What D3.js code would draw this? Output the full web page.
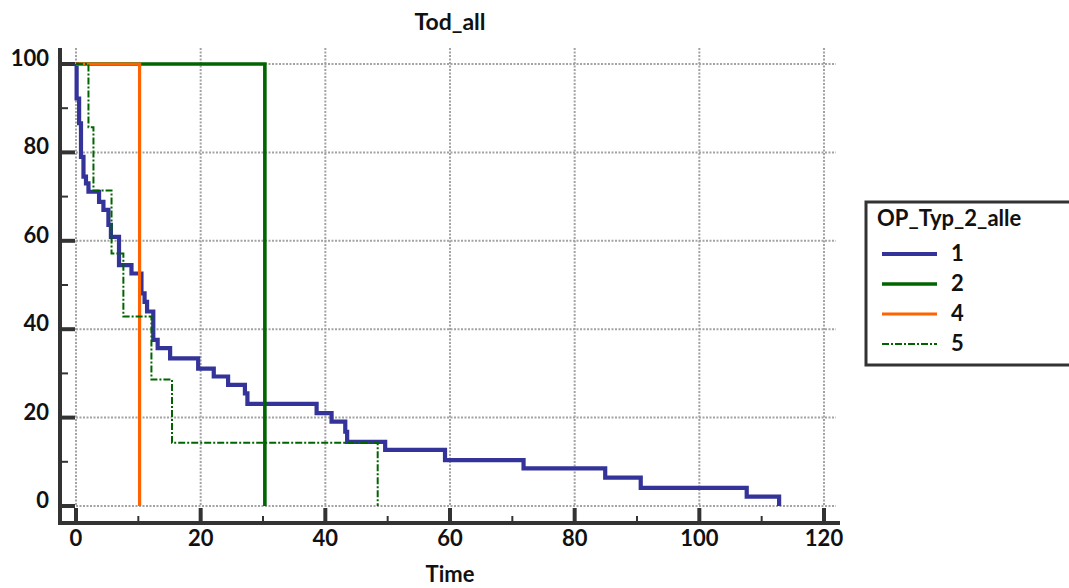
<!DOCTYPE html>
<html>
<head>
<meta charset="utf-8">
<script src="https://cdn.jsdelivr.net/npm/d3@7"></script>
<style>
  html, body { margin: 0; padding: 0; background: #fff; }
  svg { display: block; font-family: Lato, "Open Sans", sans-serif; }
</style>
</head>
<body>
<svg id="chart" width="1069" height="588"></svg>
<script>
// Kaplan-Meier survival estimates (%) by OP_Typ_2_alle group
const time1 = [0, 0.1, 0.5, 0.8, 1.2, 1.6, 2.0, 3.7, 4.4, 5.2, 5.6, 6.9, 8.9, 10.5, 11.0, 11.4, 12.4, 13.1, 15.1, 19.6, 22.1, 24.4, 27.1, 27.5, 38.6, 41.0, 43.2, 43.5, 49.6, 59.2, 71.8, 84.9, 90.6, 107.6, 112.8];
const surv1 = [100, 92.2, 86.6, 79.0, 74.5, 73.0, 71.1, 68.8, 67.0, 63.6, 60.9, 54.5, 52.6, 48.1, 46.2, 44.0, 37.6, 35.7, 33.4, 31.1, 29.3, 27.4, 25.5, 23.1, 21.0, 19.1, 16.8, 14.5, 12.7, 10.4, 8.5, 6.4, 4.1, 2.1, 0];
const time2 = [0, 30.3];
const surv2 = [100, 0];
const time4 = [0, 10.2];
const surv4 = [100, 0];
const time5 = [0, 2.0, 2.8, 5.7, 7.6, 12.1, 15.4, 48.4];
const surv5 = [100, 85.7, 71.4, 57.1, 42.9, 28.6, 14.3, 0];

const groupNames = ["1", "2", "4", "5"];
const xTicks = [0, 20, 40, 60, 80, 100, 120];
const yTicks = [0, 20, 40, 60, 80, 100];
const xMinorTicks = [10, 30, 50, 70, 90, 110];
const yMinorTicks = [10, 30, 50, 70, 90];

const groups = [
  { name: groupNames[0], t: time1, s: surv1, color: "#333399", width: 4.2, dash: null },
  { name: groupNames[1], t: time2, s: surv2, color: "#006400", width: 3.6, dash: null },
  { name: groupNames[2], t: time4, s: surv4, color: "#ff6200", width: 3.2, dash: null },
  { name: groupNames[3], t: time5, s: surv5, color: "#006400", width: 2, dash: "7,2,2,2" }
];

const svg = d3.select("#chart");
const x = d3.scaleLinear().domain([0, 120]).range([76, 824]);
const y = d3.scaleLinear().domain([0, 100]).range([506, 64]);

const axisColor = "#333333";
const gridColor = "#a3a3a3";

// grid
const grid = svg.append("g");
grid.selectAll("line.gx").data(xTicks).join("line")
  .attr("x1", d => x(d)).attr("x2", d => x(d))
  .attr("y1", 48).attr("y2", y(0))
  .attr("stroke", gridColor).attr("stroke-width", 2).attr("stroke-dasharray", "2,1.5");
grid.selectAll("line.gy").data(yTicks).join("line")
  .attr("x1", x(0)).attr("x2", 836)
  .attr("y1", d => y(d)).attr("y2", d => y(d))
  .attr("stroke", gridColor).attr("stroke-width", 2).attr("stroke-dasharray", "2,1.5");

// axes
const axisX = 60, axisY = 523;
svg.append("line").attr("x1", axisX).attr("x2", axisX).attr("y1", 48).attr("y2", axisY + 2)
  .attr("stroke", axisColor).attr("stroke-width", 4);
svg.append("line").attr("x1", axisX - 2).attr("x2", 840).attr("y1", axisY).attr("y2", axisY)
  .attr("stroke", axisColor).attr("stroke-width", 4);

svg.selectAll("line.ytick").data(yTicks).join("line")
  .attr("x1", axisX).attr("x2", x(0) - 1)
  .attr("y1", d => y(d)).attr("y2", d => y(d))
  .attr("stroke", axisColor).attr("stroke-width", 4);
svg.selectAll("line.yminor").data(yMinorTicks).join("line")
  .attr("x1", axisX).attr("x2", axisX + 8)
  .attr("y1", d => y(d)).attr("y2", d => y(d))
  .attr("stroke", axisColor).attr("stroke-width", 2);
svg.selectAll("line.xtick").data(xTicks).join("line")
  .attr("x1", d => x(d)).attr("x2", d => x(d))
  .attr("y1", axisY).attr("y2", y(0) + 2)
  .attr("stroke", axisColor).attr("stroke-width", 4);
svg.selectAll("line.xminor").data(xMinorTicks).join("line")
  .attr("x1", d => x(d)).attr("x2", d => x(d))
  .attr("y1", axisY).attr("y2", axisY - 7)
  .attr("stroke", axisColor).attr("stroke-width", 2);

// tick labels
svg.selectAll("text.ylab").data(yTicks).join("text")
  .attr("x", 49).attr("y", d => y(d) + 2)
  .attr("text-anchor", "end").attr("font-weight", "bold").attr("font-size", 22)
  .attr("fill", "#111").text(d => d);
svg.selectAll("text.xlab").data(xTicks).join("text")
  .attr("x", d => x(d)).attr("y", 546)
  .attr("text-anchor", "middle").attr("font-weight", "bold").attr("font-size", 22)
  .attr("fill", "#111").text(d => d);

// titles
svg.append("text").attr("x", 450).attr("y", 30).attr("text-anchor", "middle")
  .attr("font-weight", "bold").attr("font-size", 23).attr("fill", "#111").text("Tod_all");
svg.append("text").attr("x", 450).attr("y", 582).attr("text-anchor", "middle")
  .attr("font-weight", "bold").attr("font-size", 22).attr("fill", "#111").text("Time");

// survival curves
const line = d3.line().x(d => x(d[0])).y(d => y(d[1])).curve(d3.curveStepAfter);
svg.append("g").selectAll("path").data(groups).join("path")
  .attr("d", g => line(g.t.map((t, i) => [t, g.s[i]])))
  .attr("fill", "none")
  .attr("stroke", g => g.color)
  .attr("stroke-width", g => g.width)
  .attr("stroke-dasharray", g => g.dash);

// legend
const legend = svg.append("g");
legend.append("rect").attr("x", 866).attr("y", 202).attr("width", 220).attr("height", 163)
  .attr("fill", "#fff").attr("stroke", axisColor).attr("stroke-width", 3);
legend.append("text").attr("x", 877).attr("y", 226)
  .attr("font-weight", "bold").attr("font-size", 22).attr("fill", "#111").text("OP_Typ_2_alle");
const rowY = d3.scalePoint().domain(groupNames).range([254, 344]);
const rows = legend.selectAll("g.row").data(groups).join("g");
rows.append("line")
  .attr("x1", 882).attr("x2", 937)
  .attr("y1", g => rowY(g.name)).attr("y2", g => rowY(g.name))
  .attr("stroke", g => g.color)
  .attr("stroke-width", g => g.width)
  .attr("stroke-dasharray", g => g.dash);
rows.append("text")
  .attr("x", 951).attr("y", g => rowY(g.name)).attr("dy", "0.3em")
  .attr("font-weight", "bold").attr("font-size", 22).attr("fill", "#111")
  .text(g => g.name);
</script>
</body>
</html>
